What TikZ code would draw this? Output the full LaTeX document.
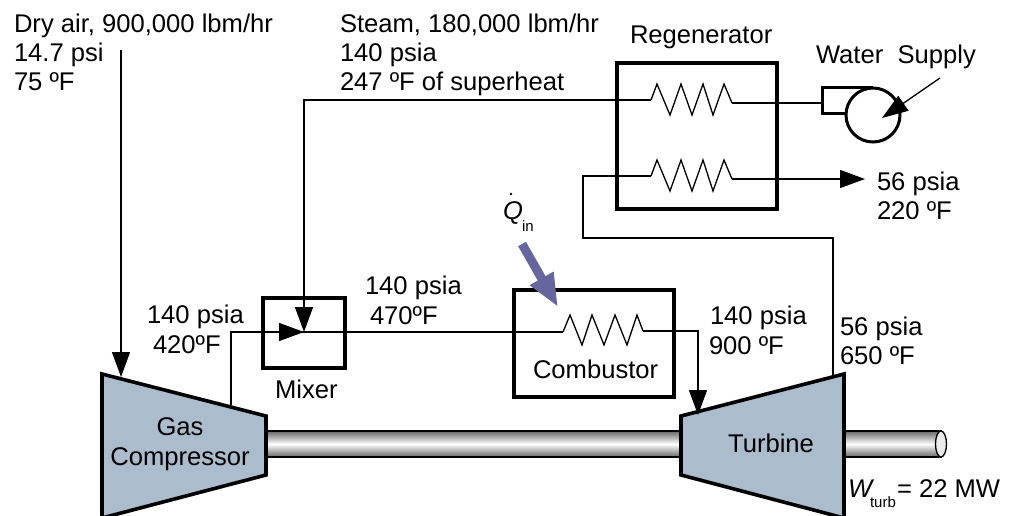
\documentclass[tikz,border=0pt]{standalone}
\usepackage{fontspec}
\setmainfont{Liberation Sans}
\usetikzlibrary{arrows.meta,calc,shapes.geometric}
\definecolor{machine}{HTML}{ABBDCC}
\definecolor{heat}{HTML}{66669E}
\tikzset{
  lab/.style={anchor=base west,inner sep=0pt,outer sep=0pt,font=\fontsize{25.6}{29}\selectfont},
  labc/.style={anchor=base,inner sep=0pt,outer sep=0pt,align=center,font=\fontsize{25.6}{29}\selectfont},
  small/.style={anchor=base west,inner sep=0pt,outer sep=0pt,font=\fontsize{15}{16}\selectfont},
  box/.style={draw=black,line width=3.4pt,line join=miter},
  machinebody/.style={draw=black,line width=3.6pt,fill=machine,line join=miter},
  flow/.style={draw=black,line width=1.3pt,line join=miter},
  flowa/.style={flow,-{Triangle[length=25pt,width=18pt]}},
  shaft/.style={draw=black,line width=1.3pt,top color=black!60,bottom color=black!60,middle color=white},
}
\begin{document}
\begin{tikzpicture}[x=1pt,y=-1pt,font=\fontsize{25.6}{29}\selectfont]
\useasboundingbox (0,0) rectangle (1013,516);
% shafts
\path[shaft] (262,431) rectangle (684,457);
\path[shaft] (842,431) rectangle (941,457);
\node[draw=black,line width=1.3pt,fill=black!8,ellipse,minimum width=11pt,minimum height=26pt,inner sep=0pt] (shaftend) at (941,444) {};
% machines
\draw[machinebody] (102,374) -- (266,416) -- (266,475) -- (102,518) -- cycle;
\draw[machinebody] (681,416) -- (844,374) -- (844,518) -- (681,475) -- cycle;
\node[labc] (comp) at (180,435) {Gas};
\node[labc] (comp2) at (180,465) {Compressor};
\node[labc] (turb) at (771,452) {Turbine};
% boxes
\node[box,minimum width=82pt,minimum height=70pt,inner sep=0pt] (mixer) at (304,333) {};
\node[box,minimum width=160pt,minimum height=107pt,inner sep=0pt] (comb) at (594,343.5) {};
\node[box,minimum width=160pt,minimum height=146pt,inner sep=0pt] (regen) at (697,136) {};
% coordinates
\coordinate (cA) at (651,100);
\coordinate (cB) at (732,103);
\coordinate (dA) at (651,176);
\coordinate (dB) at (732,179);
\coordinate (eA) at (563,332);
\coordinate (eB) at (643,331);
\coordinate (mix) at (304,332);
\coordinate (airin) at (121,50);
\coordinate (airtip) at (121,377);
\coordinate (compout) at (231,405);
\coordinate (turbin) at (698,415);
\coordinate (turbout) at (833,375);
\coordinate (pumpin) at (822,103);
\coordinate (exh) at (865,179);
\coordinate (wsA) at (940,78);
\coordinate (wsB) at (882,118);
\coordinate (qA) at (522,244);
\coordinate (qB) at (558,307);
\coordinate (lowbend) at (583,238);
% coils
\draw[flow] (cA) -- ++(6,-16) -- ++(13,31) -- ++(11,-31) -- ++(11,31) -- ++(11,-31) -- ++(10,31) -- ++(11,-31) -- (cB);
\draw[flow] (dA) -- ++(6,-16) -- ++(13,31) -- ++(11,-31) -- ++(11,31) -- ++(11,-31) -- ++(10,31) -- ++(11,-31) -- (dB);
\draw[flow] (eA) -- ++(7,-17) -- ++(12,30) -- ++(10,-30) -- ++(12,30) -- ++(11,-30) -- ++(12,30) -- ++(10,-30) -- (eB);
% pump
\node[draw=black,line width=3pt,circle,minimum size=54pt,inner sep=0pt] (pump) at (873,115) {};
\draw[black,line width=3pt,line join=miter] (873,88) -- (822,88) -- (822,114) -- (847,114);
% flows
\draw[flowa] (airin) -- (airtip);
\draw[flow] (compout) |- (eA);
\draw[flowa] (compout |- mix) -- (mix);
\draw[flowa] (cA) -| (mix);
\draw[flowa] (eB) -| (turbin);
\draw[flow] (pumpin) -- (cB);
\draw[flowa] (dB) -- (exh);
\draw[flow] (turbout) |- (lowbend) |- (dA);
\draw[black,line width=1.3pt,-{Triangle[length=26pt,width=18pt]}] (wsA) -- (wsB);
\draw[heat,line width=9pt,-{Triangle[length=33pt,width=25pt]}] (qA) -- (qB);
% labels
\node[lab] (t1) at (14,33) {Dry air, 900,000 lbm/hr};
\node[lab] (t2) at (14,62) {14.7 psi};
\node[lab] (t3) at (14,91) {75 ºF};
\node[lab] (s1) at (340,33) {Steam, 180,000 lbm/hr};
\node[lab] (s2) at (340,62) {140 psia};
\node[lab] (s3) at (340,91) {247 ºF of superheat};
\node[lab] (r1) at (630,44) {Regenerator};
\node[lab] (w1) at (816,64) {Water\ \ Supply};
\node[lab] (o1) at (877,191) {56 psia};
\node[lab] (o2) at (877,220) {220 ºF};
\node[lab] (a1) at (147,323) {140 psia};
\node[lab] (a2) at (153,353) {420ºF};
\node[lab] (b1) at (365,294) {140 psia};
\node[lab] (b2) at (370,324) {470ºF};
\node[lab] (m1) at (275,398) {Mixer};
\node[lab] (c1) at (533,378) {Combustor};
\node[lab] (d1) at (710,324) {140 psia};
\node[lab] (d2) at (709,354) {900 ºF};
\node[lab] (f1) at (840,335) {56 psia};
\node[lab] (f2) at (840,364) {650 ºF};
\node[lab] (wt) at (848,497) {\textit{W}};
\node[small] (wts) at (870,507) {turb};
\node[lab] (wv) at (897,497) {= 22 MW};
\node[lab] (q) at (503,220) {\textit{Q}};
\node[small] (qs) at (522,232) {in};
\fill (511,194) circle (1.4pt);
\end{tikzpicture}
\end{document}
